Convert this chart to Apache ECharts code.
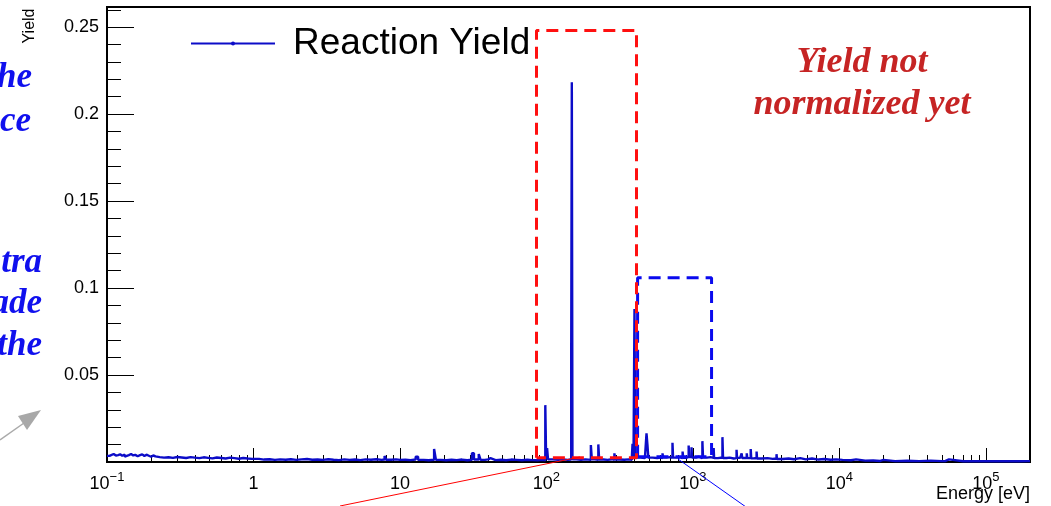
<!DOCTYPE html>
<html>
<head>
<meta charset="utf-8">
<script src="https://cdn.jsdelivr.net/npm/echarts@6/dist/echarts.min.js"></script>
<style>html,body{margin:0;padding:0;background:#fff;}#c{width:1051px;height:506px;}</style>
</head>
<body>
<div id="c"></div>
<script>
// ---- data ----
const energies = [
  0.100,0.104,0.107,0.111,0.115,0.119,0.123,0.127,0.132,0.136,0.141,0.146,0.151,0.156,0.162,0.168,0.174,0.180,0.186,0.193,0.200,0.207,0.214,0.229,0.245,0.263,0.282,0.302,0.324,0.347,0.372,0.398,0.427,0.457,0.490,0.525,0.562,0.603,0.646,0.692,0.741,0.794,0.851,0.912,0.977,
  1.00,1.09,1.18,1.29,1.40,1.52,1.66,1.80,1.96,2.13,2.32,2.52,2.74,2.98,3.24,3.52,3.83,4.17,4.53,4.93,5.36,5.83,6.34,6.90,7.50,7.85,8.05,8.70,9.40,
  10.0,10.9,11.8,12.8,13.3,14.5,15.7,17.1,17.6,19.0,20.7,22.5,24.4,26.5,28.8,31.0,32.0,34.5,35.5,38.0,40.0,41.5,45.0,49.0,53.0,57.5,62.5,68.0,74.0,80.0,87.0,94.0,
  98.2,99.5,101.0,102.5,110,120,130,140,147.5,149.0,150.5,160,172,185,201,204,214,226,229,245,262,280,291,295,315,340,365,383,387,393,399,404,415,440,470,482,489,496,530,570,600,620,626,660,700,725,732,780,820,850,858,900,935,942,978,985,
  1050,1100,1160,1172,1250,1320,1385,1395,1480,1590,1605,1700,1780,1800,1900,1985,2000,2100,2150,2170,2330,2350,2480,2500,2600,2720,2740,2950,3230,3260,3500,3720,3750,4100,4500,4900,5400,5900,6500,7200,7900,8700,9500,
  10500,12000,13000,15000,17000,19000,20000,24000,29000,35000,42000,50000,53000,56000,70000,90000,110000,140000,170000,200000
];
const yields = [
  0.0035,0.0042,0.0046,0.0037,0.0040,0.0044,0.0036,0.0043,0.0031,0.0040,0.0046,0.0038,0.0041,0.0033,0.0039,0.0044,0.0035,0.0042,0.0036,0.0030,0.0038,0.0032,0.0028,0.0025,0.0027,0.0024,0.0029,0.0026,0.0023,0.0028,0.0025,0.0022,0.0027,0.0024,0.0021,0.0026,0.0023,0.0020,0.0025,0.0022,0.0019,0.0023,0.0020,0.0018,0.0021,
  0.0018,0.0014,0.0016,0.0012,0.0015,0.0013,0.0016,0.0012,0.0015,0.0017,0.0013,0.0014,0.0012,0.0016,0.0013,0.0011,0.0015,0.0012,0.0014,0.0011,0.0015,0.0013,0.0016,0.0012,0.0014,0.0035,0.0013,0.0015,0.0012,
  0.0013,0.0011,0.0014,0.0030,0.0012,0.0010,0.0013,0.0075,0.0012,0.0010,0.0013,0.0011,0.0014,0.0010,0.0013,0.0050,0.0014,0.0046,0.0012,0.0015,0.0022,0.0011,0.0013,0.0010,0.0014,0.0012,0.0010,0.0013,0.0011,0.0010,0.0012,0.0010,
  0.0327,0.0020,0.0080,0.0015,0.0012,0.0015,0.0012,0.0014,0.0557,0.2184,0.0016,0.0013,0.0015,0.0012,0.0098,0.0015,0.0012,0.0101,0.0014,0.0012,0.0016,0.0012,0.0050,0.0014,0.0013,0.0015,0.0013,0.0030,0.0104,0.0028,0.0880,0.0040,0.0025,0.0022,0.0030,0.0165,0.0100,0.0025,0.0023,0.0026,0.0022,0.0050,0.0025,0.0028,0.0024,0.0110,0.0025,0.0027,0.0023,0.0060,0.0024,0.0030,0.0095,0.0028,0.0085,0.0026,
  0.0030,0.0022,0.0120,0.0025,0.0028,0.0024,0.0080,0.0022,0.0026,0.0143,0.0023,0.0025,0.0030,0.0020,0.0022,0.0070,0.0024,0.0020,0.0050,0.0023,0.0050,0.0022,0.0075,0.0021,0.0023,0.0060,0.0020,0.0022,0.0030,0.0018,0.0020,0.0045,0.0017,0.0020,0.0016,0.0022,0.0015,0.0020,0.0014,0.0017,0.0013,0.0015,0.0012,
  0.0010,0.0015,0.0008,0.0009,0.0006,0.0012,0.0005,0.0007,0.0005,0.0008,0.0005,0.0006,0.0015,0.0004,0.0005,0.0004,0.0005,0.0004,0.0005,0.0005
];
// annotation boxes in data units [xmin, xmax, ymin, ymax]
const redBox = [85.5, 412, 0.0025, 0.2481];
const blueBox = [419, 1340, 0.003, 0.1059];
// axis ticks
const xMajorTicks = [0.1, 1, 10, 100, 1000, 10000, 100000];
const xMinorTicks = [];
[0.1, 1, 10, 100, 1000, 10000, 100000].forEach(d => { for (let k = 2; k <= 9; k++) { const v = +(d * k).toPrecision(3); if (v <= 200000) xMinorTicks.push(v); } });
const yMajorTicks = [0, 0.05, 0.1, 0.15, 0.2, 0.25];
const yLabelTicks = [0.05, 0.1, 0.15, 0.2, 0.25];
const yMinorTicks = [0.01,0.02,0.03,0.04,0.06,0.07,0.08,0.09,0.11,0.12,0.13,0.14,0.16,0.17,0.18,0.19,0.21,0.22,0.23,0.24,0.26];
const xLabelText = {0.1:'{b|10}{s|\u22121}', 1:'{b|1}', 10:'{b|10}', 100:'{b|10}{s|2}', 1000:'{b|10}{s|3}', 10000:'{b|10}{s|4}', 100000:'{b|10}{s|5}'};

const XMIN = 0.1, XMAX = 200000, YMIN = 0, YMAX = 0.2616;

function boxData(b) {
  return [[b[0], b[2]], [b[0], b[3]], [b[1], b[3]], [b[1], b[2]], [b[0], b[2]]];
}

const chart = echarts.init(document.getElementById('c'), null, {renderer: 'canvas'});
const FONT = '"Liberation Sans", Arial, sans-serif';
const SERIF = '"Liberation Serif", "Times New Roman", serif';

chart.setOption({
  animation: false,
  backgroundColor: '#fff',
  grid: {left: 107, right: 21, top: 7, bottom: 44, show: true, borderColor: '#000', borderWidth: 2, backgroundColor: 'transparent'},
  legend: {
    show: true, data: ['Reaction Yield'], left: 185, top: 20, itemWidth: 84, itemHeight: 5,
    textStyle: {fontFamily: FONT, fontSize: 37, color: '#000', padding: [0, 0, 0, 13]},
    selectedMode: false
  },
  xAxis: [
    {
      type: 'log', logBase: 10, min: XMIN, max: XMAX, position: 'bottom',
      axisLine: {show: true, onZero: false, lineStyle: {color: '#000', width: 2}},
      axisTick: {show: true, inside: true, length: 14, customValues: xMajorTicks, lineStyle: {color: '#000', width: 1}},
      axisLabel: {show: true, customValues: xMajorTicks, margin: 9,
        formatter: v => xLabelText[v] || '',
        rich: {
          b: {fontFamily: FONT, fontSize: 18, color: '#000', lineHeight: 22, verticalAlign: 'bottom'},
          s: {fontFamily: FONT, fontSize: 13, color: '#000', lineHeight: 22, verticalAlign: 'top', padding: [0, 0, 13, 0]}
        }},
      splitLine: {show: false}, minorTick: {show: false}
    },
    {
      type: 'log', logBase: 10, min: XMIN, max: XMAX, position: 'bottom',
      axisLine: {show: false},
      axisTick: {show: true, inside: true, length: 7, customValues: xMinorTicks, lineStyle: {color: '#000', width: 1}},
      axisLabel: {show: false}, splitLine: {show: false}
    }
  ],
  yAxis: [
    {
      type: 'value', min: YMIN, max: YMAX, position: 'left',
      axisLine: {show: true, onZero: false, lineStyle: {color: '#000', width: 2}},
      axisTick: {show: true, inside: true, length: 27, customValues: yMajorTicks, lineStyle: {color: '#000', width: 1}},
      axisLabel: {show: true, customValues: yLabelTicks, margin: 8, fontFamily: FONT, fontSize: 18, color: '#000'},
      splitLine: {show: false}
    },
    {
      type: 'value', min: YMIN, max: YMAX, position: 'left',
      axisLine: {show: false},
      axisTick: {show: true, inside: true, length: 14, customValues: yMinorTicks, lineStyle: {color: '#000', width: 1}},
      axisLabel: {show: false}, splitLine: {show: false}
    }
  ],
  series: [
    {
      name: 'Reaction Yield', type: 'line', step: 'end', xAxisIndex: 0, yAxisIndex: 0,
      data: energies.map((e, i) => [e, yields[i]]),
      symbol: 'circle', symbolSize: 3, showSymbol: false,
      lineStyle: {color: '#0c0cc8', width: 2.4}, itemStyle: {color: '#0c0cc8'},
      z: 3
    },
    {
      name: 'blueBox', type: 'line', xAxisIndex: 0, yAxisIndex: 0, data: boxData(blueBox),
      symbol: 'none', lineStyle: {color: '#0a0aee', width: 3, type: [12, 7]}, z: 4, silent: true
    },
    {
      name: 'redBox', type: 'line', xAxisIndex: 0, yAxisIndex: 0, data: boxData(redBox),
      symbol: 'none', lineStyle: {color: '#ff1010', width: 3, type: [12, 7]}, z: 5, silent: true
    }
  ],
  graphic: [
    {type: 'text', x: 30, y: 26, rotation: Math.PI / 2, style: {text: 'Yield', font: '16px ' + FONT, fill: '#000', textAlign: 'center', textVerticalAlign: 'middle'}},
    {type: 'text', x: 1030, y: 494, style: {text: 'Energy [eV]', font: '18px ' + FONT, fill: '#000', textAlign: 'right', textVerticalAlign: 'middle'}},
    {type: 'text', x: 862, y: 84, style: {text: 'Yield not\nnormalized yet', font: 'italic bold 36px ' + SERIF, fill: '#c62424', textAlign: 'center', textVerticalAlign: 'middle', lineHeight: 42}},
    {type: 'text', x: 32, y: 78, style: {text: 'he', font: 'italic bold 35px ' + SERIF, fill: '#1010ee', textAlign: 'right', textVerticalAlign: 'middle'}},
    {type: 'text', x: 31, y: 122, style: {text: 'ce', font: 'italic bold 35px ' + SERIF, fill: '#1010ee', textAlign: 'right', textVerticalAlign: 'middle'}},
    {type: 'text', x: 42, y: 263, style: {text: 'tra', font: 'italic bold 35px ' + SERIF, fill: '#1010ee', textAlign: 'right', textVerticalAlign: 'middle'}},
    {type: 'text', x: 42, y: 304, style: {text: 'ade', font: 'italic bold 35px ' + SERIF, fill: '#1010ee', textAlign: 'right', textVerticalAlign: 'middle'}},
    {type: 'text', x: 42, y: 346, style: {text: 'the', font: 'italic bold 35px ' + SERIF, fill: '#1010ee', textAlign: 'right', textVerticalAlign: 'middle'}},
    {type: 'line', shape: {x1: 0, y1: 440, x2: 24, y2: 423}, style: {stroke: '#aaaaaa', lineWidth: 1.5}},
    {type: 'polygon', shape: {points: [[41, 410], [18, 416], [27, 430]]}, style: {fill: '#a8a8a8'}},
    {type: 'line', shape: {x1: 340, y1: 506, x2: 580, y2: 457}, style: {stroke: '#ff0000', lineWidth: 1}, z: 10},
    {type: 'line', shape: {x1: 678, y1: 459, x2: 746, y2: 507}, style: {stroke: '#0000ff', lineWidth: 1}, z: 10}
  ]
});
</script>
</body>
</html>
